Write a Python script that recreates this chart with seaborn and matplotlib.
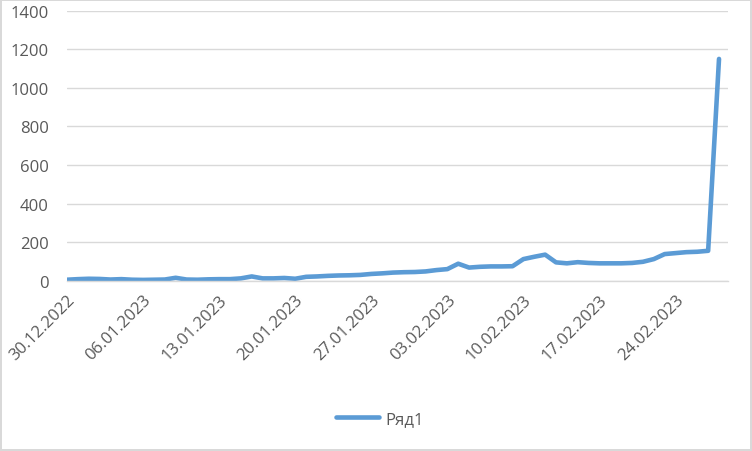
import pandas as pd
import seaborn as sns
import matplotlib.pyplot as plt

sns.set_style("white")
plt.rcParams["font.family"] = ["Open Sans", "DejaVu Sans"]

# daily values, 30.12.2022 .. 28.02.2023
dates = pd.date_range("2022-12-30", "2023-02-28", freq="D")
values = [
    5, 8, 10, 9, 6, 8, 5, 4, 5, 6,
    15, 6, 5, 7, 8, 8, 12, 22, 12, 12,
    14, 10, 20, 22, 25, 27, 28, 30, 35, 38,
    42, 44, 45, 48, 55, 60, 88, 68, 72, 74,
    74, 75, 112, 124, 135, 95, 90, 96, 92, 90,
    90, 90, 92, 98, 112, 138, 143, 148, 150, 155,
    1150,
]
series_name = "Ряд1"

df = pd.DataFrame({"date": dates, "value": values, "series": series_name})

text_col = "#595959"
grid_col = "#d9d9d9"
line_col = "#5b9bd5"

fig = plt.figure(figsize=(7.52, 4.52), dpi=100)
fig.patch.set_edgecolor(grid_col)
fig.patch.set_linewidth(1.5)
ax = fig.add_axes([0.0891, 0.3768, 0.8786, 0.5973])

sns.lineplot(data=df, x="date", y="value", hue="series", palette=[line_col],
             linewidth=3.3, ax=ax, legend=True)

ax.set_ylim(0, 1400)
ax.set_yticks(range(0, 1401, 200))
ax.set_xlim(dates[0], dates[0] + pd.Timedelta(days=60.8))
ax.set_xticks(dates[::7])
ax.set_xticklabels([d.strftime("%d.%m.%Y") for d in dates[::7]],
                   rotation=45, ha="right", rotation_mode="anchor")
ax.set_xlabel("")
ax.set_ylabel("")

ax.grid(axis="y", color=grid_col, linewidth=1)
ax.set_axisbelow(True)
for side in ["left", "right", "top"]:
    ax.spines[side].set_visible(False)
ax.spines["bottom"].set_color(grid_col)
ax.spines["bottom"].set_linewidth(1)
ax.tick_params(axis="x", colors=grid_col, length=5, width=1, labelcolor=text_col,
               labelsize=12, pad=3)
ax.tick_params(axis="y", length=0, labelcolor=text_col, labelsize=12, pad=13)

ax.get_legend().remove()
handles, labels = ax.get_legend_handles_labels()
fig.legend(handles, labels, loc="center", bbox_to_anchor=(0.505, 0.071),
           frameon=False, fontsize=12, labelcolor=text_col,
           handlelength=2.6, handletextpad=0.4)

fig.savefig("out.png", dpi=100)
